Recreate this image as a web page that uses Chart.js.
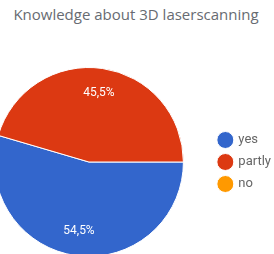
<!DOCTYPE html>
<html>
<head>
<meta charset="utf-8">
<script src="https://cdn.jsdelivr.net/npm/chart.js@4/dist/chart.umd.min.js"></script>
<style>
  html, body { margin: 0; padding: 0; background: #fff; width: 274px; height: 254px; overflow: hidden; position: relative; }
  #titulo { position: absolute; left: 0; top: 4px; width: 272px; text-align: center;
            font-family: "Open Sans", sans-serif; font-size: 15px; color: #676b72; white-space: nowrap; }
  #grafico { position: absolute; left: -32px; top: 67px; }
</style>
</head>
<body>
<div id="titulo">Knowledge about 3D laserscanning</div>
<canvas id="grafico" width="313" height="190"></canvas>
<script>
const categorias = ["yes", "partly", "no"]
const respuestas = [6, 5, 0]
const colores = ["#3366cc", "#dc3912", "#ff9900"]

// etiquetas de porcentaje dentro de cada porcion
const etiquetasPct = {
  id: "etiquetasPct",
  afterDatasetsDraw(chart) {
    const ctx = chart.ctx
    const meta = chart.getDatasetMeta(0)
    const total = respuestas.reduce((a, b) => a + b, 0)
    ctx.save()
    ctx.fillStyle = "#ffffff"
    ctx.font = "12px Roboto"
    ctx.textAlign = "center"
    ctx.textBaseline = "middle"
    meta.data.forEach((arco, i) => {
      if (respuestas[i] == 0) return
      const p = arco.getProps(["x", "y", "startAngle", "endAngle", "outerRadius"], true)
      const ang = (p.startAngle + p.endAngle) / 2
      const r = p.outerRadius * 0.74
      const txt = (respuestas[i] / total * 100).toFixed(1).replace(".", ",") + "%"
      ctx.fillText(txt, p.x + Math.cos(ang) * r, p.y + Math.sin(ang) * r)
    })
    ctx.restore()
  }
}

const config = {
  type: "pie",
  data: {
    labels: categorias,
    datasets: [{
      data: respuestas,
      backgroundColor: colores,
      borderColor: "#ffffff",
      borderWidth: 1
    }]
  },
  options: {
    responsive: false,
    animation: false,
    rotation: 90,
    layout: { padding: 0 },
    plugins: {
      tooltip: { enabled: false },
      legend: {
        position: "right",
        align: "center",
        labels: {
          usePointStyle: true,
          pointStyle: "circle",
          boxWidth: 14,
          boxHeight: 12,
          padding: 9,
          color: "#666666",
          font: { family: "Roboto", size: 13 }
        }
      }
    }
  },
  plugins: [etiquetasPct]
}
const miGrafico = new Chart(document.getElementById("grafico"), config)
</script>
</body>
</html>
